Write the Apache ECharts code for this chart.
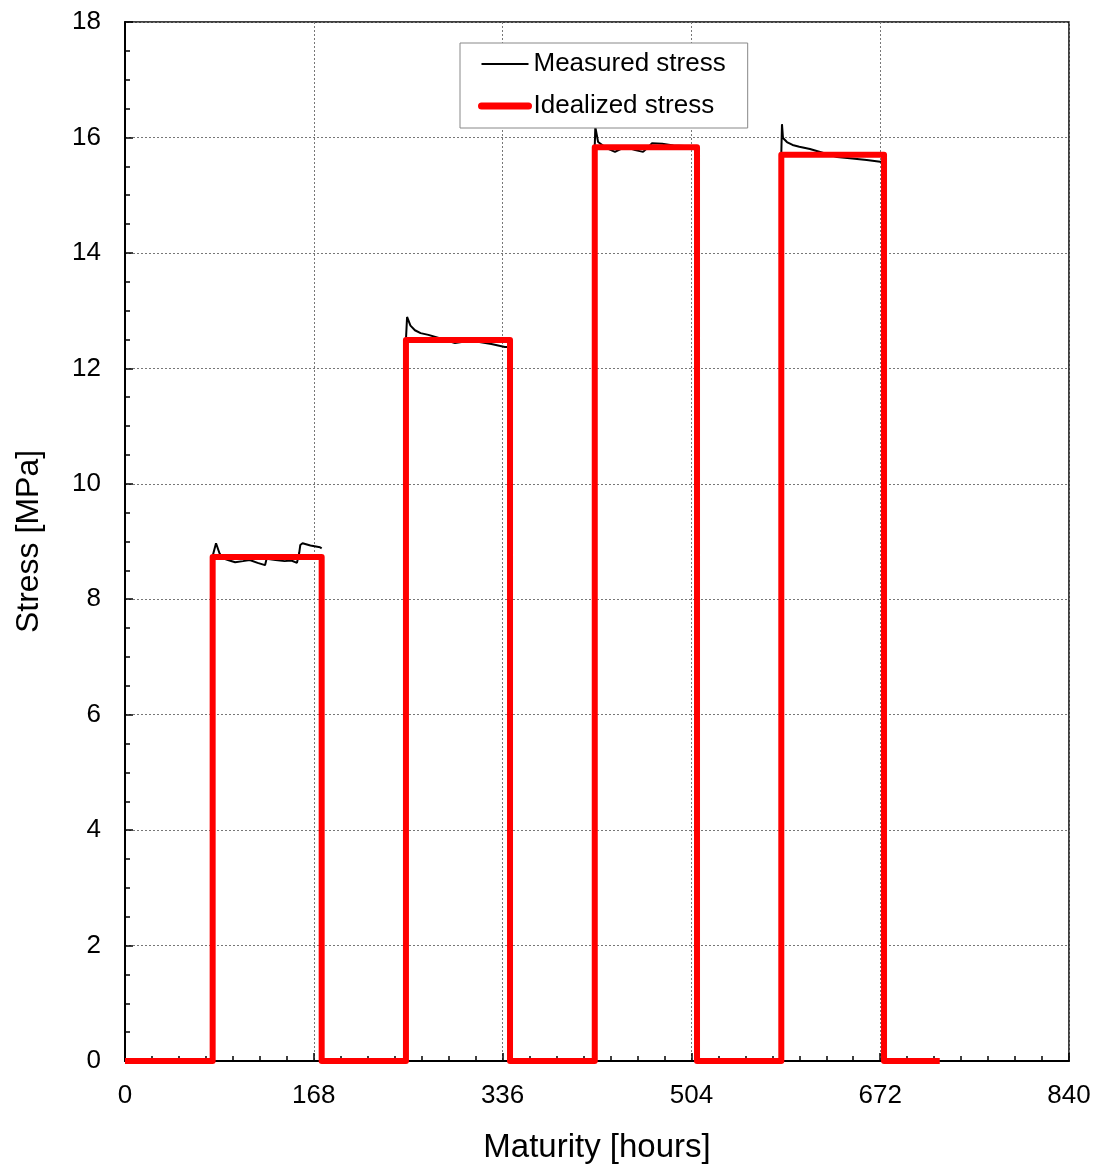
<!DOCTYPE html>
<html><head><meta charset="utf-8">
<script src="https://cdn.jsdelivr.net/npm/echarts@6/dist/echarts.min.js"></script>
<style>html,body{margin:0;padding:0;background:#fff}#c{width:1097px;height:1169px}</style>
</head><body><div id="c"></div>
<script>
// Idealized stress (step function): [hours, MPa]
const idealHours = [0, 78, 78, 175, 175, 250, 250, 342.6, 342.6, 418, 418, 509, 509, 584, 584, 675.4, 675.4, 725];
const idealStress = [0, 0, 8.73, 8.73, 0, 0, 12.49, 12.49, 0, 0, 15.83, 15.83, 0, 0, 15.70, 15.70, 0, 0];

// Measured stress segments
const measHours = [
  78, 78, 81, 84, 87, 93, 98, 105, 111, 118, 124.6, 126, 134, 142, 148, 153, 155, 156, 158, 165, 173.5, 175,
  null,
  250, 250, 251, 254, 258, 263, 270, 280, 293.6, 304, 314, 326, 338, 340,
  null,
  418, 418, 418.5, 421, 428, 436, 441, 447.6, 454, 461, 465, 469, 478, 488, 498, 508,
  null,
  584, 584, 584.6, 585.5, 589, 594, 600, 609.5, 620, 633.6, 645, 660, 672, 674
];
const measStress = [
  0, 8.75, 8.97, 8.80, 8.71, 8.67, 8.64, 8.66, 8.68, 8.63, 8.59, 8.70, 8.68, 8.66, 8.67, 8.63, 8.80, 8.94, 8.97, 8.93, 8.90, 8.88,
  null,
  0, 12.5, 12.89, 12.74, 12.66, 12.61, 12.58, 12.52, 12.44, 12.47, 12.46, 12.42, 12.37, 12.37,
  null,
  0, 15.85, 16.18, 15.92, 15.82, 15.75, 15.80, 15.82, 15.78, 15.75, 15.82, 15.90, 15.89, 15.86, 15.85, 15.85,
  null,
  0, 15.72, 16.23, 15.99, 15.92, 15.87, 15.84, 15.80, 15.74, 15.66, 15.64, 15.61, 15.58, 15.58
];

const xTicks = [0, 168, 336, 504, 672, 840];
const yTicks = [0, 2, 4, 6, 8, 10, 12, 14, 16, 18];

const pair = (xs, ys) => xs.map((x, i) => (x === null ? '-' : [x, ys[i]]));

const chart = echarts.init(document.getElementById('c'));
const font = 'Liberation Sans, Arial, sans-serif';
chart.setOption({
  animation: false,
  backgroundColor: '#fff',
  grid: { left: 125, right: 28, top: 22, bottom: 108, show: true, borderColor: '#000', borderWidth: 1.5, backgroundColor: 'transparent' },
  legend: {
    orient: 'vertical', left: 460, top: 43, padding: [8, 22, 9, 18], itemGap: 16,
    itemWidth: 47, itemHeight: 26, backgroundColor: '#fff', borderColor: '#888', borderWidth: 1,
    textStyle: { fontFamily: font, fontSize: 26, color: '#000' },
    itemStyle: { opacity: 0 },
    data: [
      { name: 'Measured stress', lineStyle: { width: 2, color: '#000' }, itemStyle: { opacity: 0 } },
      { name: 'Idealized stress', lineStyle: { width: 7, color: '#ff0000', cap: 'round' }, itemStyle: { opacity: 0 } }
    ]
  },
  xAxis: {
    type: 'value', min: 0, max: 840, interval: 168,
    name: 'Maturity [hours]', nameLocation: 'middle', nameGap: 70,
    nameTextStyle: { fontFamily: font, fontSize: 33, color: '#000' },
    axisLine: { lineStyle: { color: '#000', width: 2 } },
    axisTick: { inside: true, length: 8, lineStyle: { color: '#000', width: 1.5 } },
    minorTick: { show: true, splitNumber: 7, length: 5, lineStyle: { color: '#000', width: 1.5 } },
    splitLine: { show: true, lineStyle: { color: '#777', type: [2, 2], width: 1 } },
    axisLabel: { fontFamily: font, fontSize: 26, color: '#000', margin: 22,
      customValues: xTicks, formatter: v => String(v) }
  },
  yAxis: {
    type: 'value', min: 0, max: 18, interval: 2,
    name: 'Stress [MPa]', nameLocation: 'middle', nameGap: 80,
    nameTextStyle: { fontFamily: font, fontSize: 32, color: '#000' },
    axisLine: { lineStyle: { color: '#000', width: 2 } },
    axisTick: { inside: true, length: 8, lineStyle: { color: '#000', width: 1.5 } },
    minorTick: { show: true, splitNumber: 4, length: 5, lineStyle: { color: '#000', width: 1.5 } },
    splitLine: { show: true, lineStyle: { color: '#777', type: [2, 2], width: 1 } },
    axisLabel: { fontFamily: font, fontSize: 26, color: '#000', margin: 24,
      customValues: yTicks, formatter: v => String(v) }
  },
  series: [
    { name: 'Measured stress', type: 'line', symbol: 'none', connectNulls: false,
      data: pair(measHours, measStress), color: '#000',
      lineStyle: { color: '#000', width: 2 }, z: 2 },
    { name: 'Idealized stress', type: 'line', symbol: 'none',
      data: pair(idealHours, idealStress), color: '#ff0000',
      lineStyle: { color: '#ff0000', width: 6, join: 'round' }, z: 3 }
  ]
});
</script></body></html>
